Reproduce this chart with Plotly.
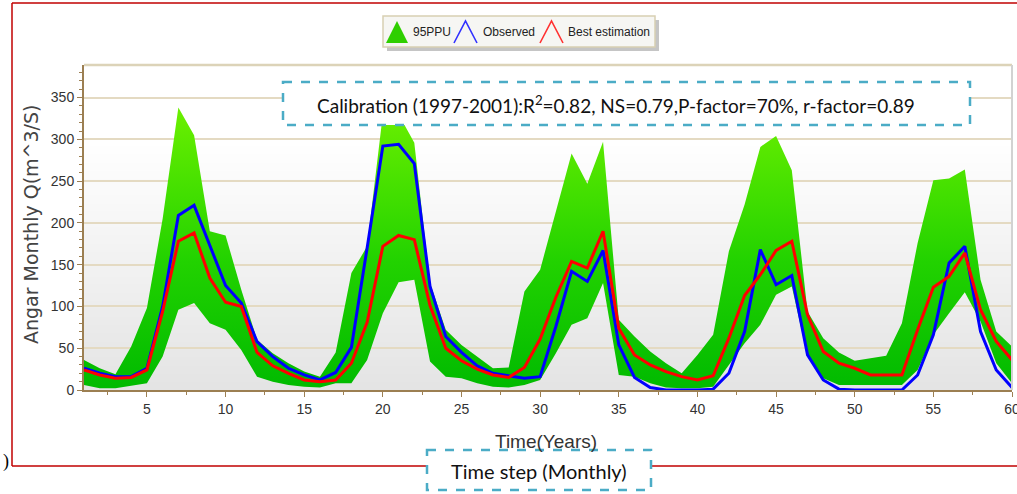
import plotly.graph_objects as go

# ---------------- data ----------------
months = list(range(1, 61))

ppu_upper = [36, 26, 19, 52, 98, 205, 338, 305, 190, 185,
             120, 60, 44, 32, 22, 16, 45, 140, 172, 330,
             330, 296, 128, 72, 54, 40, 26, 27, 118, 144,
             215, 283, 247, 297, 84, 64, 46, 32, 20, 42,
             66, 166, 222, 291, 304, 263, 94, 62, 45, 35,
             38, 41, 80, 176, 251, 253, 264, 132, 70, 52]

ppu_lower = [6, 2, 2, 5, 8, 40, 96, 104, 80, 72,
             48, 16, 10, 6, 4, 3, 8, 8, 36, 92,
             129, 132, 34, 16, 14, 8, 4, 3, 6, 12,
             44, 78, 86, 128, 18, 16, 8, 3, 2, 2,
             4, 30, 56, 78, 114, 124, 40, 14, 6, 6,
             6, 6, 6, 24, 66, 92, 117, 82, 32, 8]

observed = [26, 20, 16, 16, 26, 100, 209, 221, 173, 125,
            104, 58, 40, 26, 18, 12, 21, 51, 170, 292,
            294, 271, 124, 64, 45, 29, 20, 17, 14, 16,
            76, 142, 130, 167, 54, 15, 3, 0, 0, 0,
            1, 20, 70, 168, 126, 137, 42, 12, 1, 0,
            0, 0, 0, 18, 66, 152, 172, 70, 24, 3]

best_estimation = [24, 18, 14, 15, 24, 94, 178, 188, 134, 105,
                   100, 45, 29, 20, 12, 10, 12, 32, 81, 172,
                   185, 180, 101, 50, 35, 25, 18, 15, 27, 61,
                   111, 154, 146, 190, 74, 42, 30, 22, 16, 12,
                   17, 62, 113, 138, 167, 178, 90, 46, 32, 26,
                   18, 18, 18, 72, 123, 136, 164, 96, 58, 36]

legend_labels = ["95PPU", "Observed", "Best estimation"]
y_title = "Angar Monthly Q(m^3/S)"
x_title = "Time(Years)"
stats_text = "Calibration (1997-2001):R<sup>2</sup>=0.82, NS=0.79,P-factor=70%, r-factor=0.89"
step_text = "Time step (Monthly)"

# ---------------- layout geometry ----------------
W, H = 1017, 494
L, R, T, B = 84, 1012, 65, 390     # plot area in pixels
PW, PH = R - L, B - T


def px(x):
    return (x - L) / PW


def py(y):
    return (B - y) / PH


SANS = "Liberation Sans, Arial, sans-serif"
CAL = "Lato, Open Sans, sans-serif"

fig = go.Figure()

fig.add_trace(go.Scatter(x=months, y=ppu_lower, mode="lines",
                         line=dict(width=0, color="rgba(0,0,0,0)"),
                         showlegend=False, hoverinfo="skip"))
fig.add_trace(go.Scatter(x=months, y=ppu_upper, mode="lines", name=legend_labels[0],
                         line=dict(width=0, color="rgba(0,0,0,0)"),
                         fill="tonexty", fillcolor="#22cc00",
                         fillgradient=dict(type="vertical", start=0, stop=340,
                                           colorscale=[[0, "#00ba00"], [0.45, "#22d200"],
                                                       [1, "#6cf000"]]),
                         showlegend=False))
fig.add_trace(go.Scatter(x=months, y=observed, mode="lines", name=legend_labels[1],
                         line=dict(color="#0000ff", width=3), showlegend=False))
fig.add_trace(go.Scatter(x=months, y=best_estimation, mode="lines", name=legend_labels[2],
                         line=dict(color="#ff0000", width=3), showlegend=False))

shapes = []
# plot-area background gradient
n = 40
for i in range(n):
    t = (i + 0.5) / n
    k = min(1.0, t / 0.75)
    g = int(228 + (255 - 228) * k)
    shapes.append(dict(type="rect", xref="x domain", yref="y domain",
                       x0=0, x1=1, y0=i / n, y1=(i + 1) / n + 0.002,
                       fillcolor=f"rgb({g},{g},{g})", line=dict(width=0), layer="below"))
# top and right border of the plot area
shapes.append(dict(type="line", xref="paper", yref="paper", x0=0, x1=1, y0=1, y1=1,
                   line=dict(color="#dcd3b8", width=2.5), layer="above"))
shapes.append(dict(type="line", xref="paper", yref="paper", x0=1, x1=1, y0=0, y1=1,
                   line=dict(color="#d2d2d2", width=2), layer="above"))

# red frame
red = dict(color="#c00000", width=1.5)
shapes.append(dict(type="line", xref="paper", yref="paper", x0=px(12), x1=px(1017),
                   y0=py(3), y1=py(3), line=red))
shapes.append(dict(type="line", xref="paper", yref="paper", x0=px(12), x1=px(12),
                   y0=py(3), y1=py(466), line=red))
shapes.append(dict(type="line", xref="paper", yref="paper", x0=px(12), x1=px(1017),
                   y0=py(466), y1=py(466), line=red))

# legend box
shapes.append(dict(type="rect", xref="paper", yref="paper", x0=px(387), x1=px(659),
                   y0=py(20), y1=py(51), fillcolor="rgba(150,150,150,0.55)", line=dict(width=0)))
shapes.append(dict(type="rect", xref="paper", yref="paper", x0=px(383), x1=px(655),
                   y0=py(16), y1=py(47), fillcolor="#f6f6f3", line=dict(color="#d8d0b2", width=1.5)))
shapes.append(dict(type="path", xref="paper", yref="paper",
                   path=f"M{px(386)},{py(43)} L{px(397)},{py(21)} L{px(408)},{py(43)} Z",
                   fillcolor="#2fcf00", line=dict(width=0)))
shapes.append(dict(type="path", xref="paper", yref="paper",
                   path=f"M{px(454)},{py(43)} L{px(465.5)},{py(21)} L{px(477)},{py(43)}",
                   line=dict(color="#3030ff", width=1.6)))
shapes.append(dict(type="path", xref="paper", yref="paper",
                   path=f"M{px(540)},{py(43)} L{px(551.5)},{py(21)} L{px(563)},{py(43)}",
                   line=dict(color="#ff3030", width=1.6)))

# dashed statistic boxes
dash = dict(color="#4bacc6", width=2.5, dash="dash")
shapes.append(dict(type="rect", xref="paper", yref="paper", x0=px(283), x1=px(970),
                   y0=py(82), y1=py(125), fillcolor="white", line=dash, layer="above"))
shapes.append(dict(type="rect", xref="paper", yref="paper", x0=px(427), x1=px(651),
                   y0=py(450), y1=py(490), fillcolor="white", line=dash, layer="above"))

annotations = [
    dict(text=legend_labels[0], x=px(411), y=py(32), xanchor="left", yanchor="middle",
         font=dict(family=SANS, size=12, color="#222")),
    dict(text=legend_labels[1], x=px(481), y=py(32), xanchor="left", yanchor="middle",
         font=dict(family=SANS, size=12, color="#222")),
    dict(text=legend_labels[2], x=px(566), y=py(32), xanchor="left", yanchor="middle",
         font=dict(family=SANS, size=12, color="#222")),
    dict(text=stats_text, x=px(616), y=py(104), xanchor="center", yanchor="middle",
         font=dict(family=CAL, size=19, color="#111")),
    dict(text=y_title, x=px(31), y=py(225), xanchor="center", yanchor="middle", textangle=-90,
         font=dict(family="DejaVu Sans, Verdana, sans-serif", size=19, color="#444")),
    dict(text=x_title, x=px(546), y=py(441), xanchor="center", yanchor="middle",
         font=dict(family=SANS, size=19, color="#333")),
    dict(text=step_text, x=px(539), y=py(471), xanchor="center", yanchor="middle",
         font=dict(family=CAL, size=20, color="#111")),
    dict(text=")", x=px(6), y=py(461), xanchor="center", yanchor="middle",
         font=dict(family="Liberation Serif, serif", size=18, color="#000")),
]
for a in annotations:
    a.update(xref="paper", yref="paper", showarrow=False)

axis_col = "#9c7f52"
fig.update_layout(
    width=W, height=H,
    margin=dict(l=L, r=W - R, t=T, b=H - B, autoexpand=False),
    paper_bgcolor="white", plot_bgcolor="white",
    showlegend=False,
    shapes=shapes, annotations=annotations,
    xaxis=dict(range=[1, 60.0001], tick0=0, dtick=5, showgrid=False, zeroline=False,
               showline=True, linecolor=axis_col, linewidth=2, automargin=False,
               ticks="outside", ticklen=5, tickcolor=axis_col, ticklabeloverflow="allow",
               minor=dict(dtick=2.5, ticks="outside", ticklen=3, tickcolor=axis_col),
               tickfont=dict(family=SANS, size=14, color="#333")),
    yaxis=dict(range=[0, 389], tick0=0, dtick=50, showgrid=True, gridcolor="#e4dac2",
               gridwidth=1.5, zeroline=False, automargin=False,
               showline=True, linecolor=axis_col, linewidth=2,
               ticks="outside", ticklen=5, tickcolor=axis_col,
               minor=dict(dtick=10, ticks="outside", ticklen=3, tickcolor=axis_col, showgrid=False),
               tickfont=dict(family=SANS, size=14, color="#333")),
)

fig.write_html("out.html", config={"displayModeBar": False},
               post_script=("document.documentElement.style.overflow='hidden';"
                            "document.body.style.overflow='hidden';"
                            "document.body.style.margin='0';document.body.style.padding='0';"))
